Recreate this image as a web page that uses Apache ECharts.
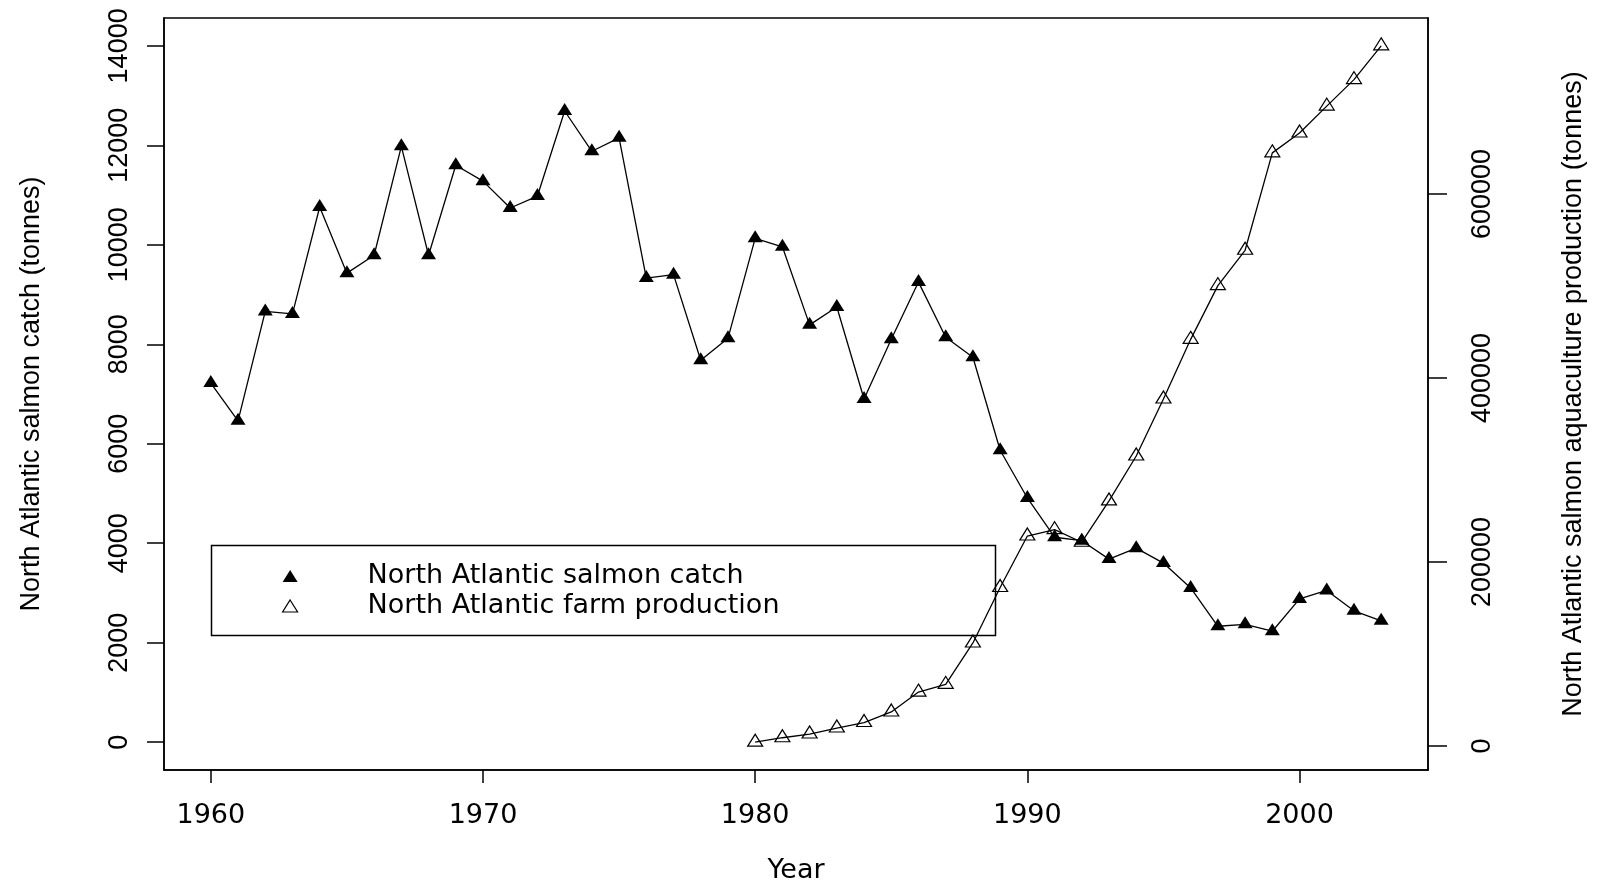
<!DOCTYPE html>
<html>
<head>
<meta charset="utf-8">
<title>North Atlantic salmon catch and farm production</title>
<script src="https://cdn.jsdelivr.net/npm/echarts@6/dist/echarts.min.js"></script>
<style>
  html, body { margin: 0; padding: 0; background: #fff; }
  #chart { width: 1605px; height: 887px; }
</style>
</head>
<body>
<div id="chart"></div>
<script>
// Wild catch, 1960-2003 (tonnes)
const catchYears = [1960, 1961, 1962, 1963, 1964, 1965, 1966, 1967, 1968, 1969,
                    1970, 1971, 1972, 1973, 1974, 1975, 1976, 1977, 1978, 1979,
                    1980, 1981, 1982, 1983, 1984, 1985, 1986, 1987, 1988, 1989,
                    1990, 1991, 1992, 1993, 1994, 1995, 1996, 1997, 1998, 1999,
                    2000, 2001, 2002, 2003];
const catchTonnes = [7220, 6460, 8660, 8610, 10760, 9430, 9790, 11980, 9790, 11600,
                     11280, 10740, 10980, 12690, 11880, 12150, 9330, 9400, 7680, 8120,
                     10130, 9960, 8390, 8750, 6900, 8100, 9250, 8140, 7740, 5870,
                     4910, 4120, 4050, 3680, 3900, 3600, 3100, 2330, 2370, 2230,
                     2880, 3050, 2640, 2440];

// Farmed production, 1980-2003 (tonnes)
const farmYears = [1980, 1981, 1982, 1983, 1984, 1985, 1986, 1987, 1988, 1989,
                   1990, 1991, 1992, 1993, 1994, 1995, 1996, 1997, 1998, 1999,
                   2000, 2001, 2002, 2003];
const farmTonnes = [4200, 9000, 13000, 19500, 25500, 37000, 58600, 67000, 112000, 172300,
                    228200, 235200, 221500, 266400, 315200, 377200, 442000, 500400, 538800, 644700,
                    666300, 695500, 724300, 761000];

// Axis ticks
const yearTicks = [1960, 1970, 1980, 1990, 2000];
const catchTicks = [0, 2000, 4000, 6000, 8000, 10000, 12000, 14000];
const farmTicks = [0, 200000, 400000, 600000];

const seriesNames = ['North Atlantic salmon catch', 'North Atlantic farm production'];
const axisTitles = {
  x: 'Year',
  left: 'North Atlantic salmon catch (tonnes)',
  right: 'North Atlantic salmon aquaculture production (tonnes)'
};

// Data ranges padded by 4% on each side, like a classic statistics plot
function padRange(lo, hi) {
  const d = (hi - lo) * 0.04;
  return [lo - d, hi + d];
}
const xRange = padRange(Math.min(...catchYears), Math.max(...catchYears));
const leftRange = padRange(0, 14000);
const rightRange = padRange(Math.min(...farmTonnes), Math.max(...farmTonnes));

const hFont = 'DejaVu Sans, Liberation Sans, sans-serif';
const vFont = 'Liberation Sans, Arial, sans-serif';
const ink = '#000';
const plain = v => String(v);
const edge = { show: true, onZero: false, lineStyle: { color: ink, width: 1.5 } };

const chart = echarts.init(document.getElementById('chart'), null, { renderer: 'canvas' });

chart.setOption({
  backgroundColor: '#fff',
  animation: false,
  grid: {
    left: 164, right: 177, top: 18, bottom: 117,
    outerBoundsMode: 'none',
    containLabel: false,
    show: true, borderColor: ink, borderWidth: 1.5, backgroundColor: 'transparent'
  },
  xAxis: {
    type: 'value',
    position: 'bottom',
    min: xRange[0], max: xRange[1],
    axisLine: edge,
    splitLine: { show: false },
    axisTick: { show: true, inside: false, length: 13, customValues: yearTicks,
                lineStyle: { color: ink, width: 1.5 } },
    axisLabel: { customValues: yearTicks, formatter: plain, margin: 46,
                 verticalAlign: 'middle', color: ink, fontFamily: hFont, fontSize: 27 },
    name: axisTitles.x,
    nameLocation: 'middle',
    nameGap: 101,
    nameTextStyle: { color: ink, fontFamily: hFont, fontSize: 27, verticalAlign: 'middle' }
  },
  yAxis: [
    {
      type: 'value',
      position: 'left',
      min: leftRange[0], max: leftRange[1],
      axisLine: edge,
      splitLine: { show: false },
      axisTick: { show: true, inside: false, length: 17, customValues: catchTicks,
                  lineStyle: { color: ink, width: 1.5 } },
      axisLabel: { customValues: catchTicks, formatter: plain, rotate: 90, margin: 44,
                   align: 'center', verticalAlign: 'middle',
                   color: ink, fontFamily: vFont, fontSize: 27 },
      name: axisTitles.left,
      nameLocation: 'middle',
      nameRotate: 90,
      nameGap: 132,
      nameTextStyle: { color: ink, fontFamily: vFont, fontSize: 27, verticalAlign: 'middle' }
    },
    {
      type: 'value',
      position: 'right',
      min: rightRange[0], max: rightRange[1],
      axisLine: edge,
      splitLine: { show: false },
      axisTick: { show: true, inside: false, length: 19, customValues: farmTicks,
                  lineStyle: { color: ink, width: 1.5 } },
      axisLabel: { customValues: farmTicks, formatter: plain, rotate: 90, margin: 55,
                   align: 'center', verticalAlign: 'middle',
                   color: ink, fontFamily: vFont, fontSize: 27 },
      name: axisTitles.right,
      nameLocation: 'middle',
      nameRotate: 90,
      nameGap: 146,
      nameTextStyle: { color: ink, fontFamily: vFont, fontSize: 27, verticalAlign: 'middle' }
    }
  ],
  legend: {
    orient: 'vertical',
    left: 282,
    top: 561,
    padding: 0,
    itemGap: 0,
    itemWidth: 15,
    itemHeight: 12,
    selectedMode: false,
    textStyle: { color: ink, fontFamily: hFont, fontSize: 27, lineHeight: 30,
                 padding: [0, 0, 0, 65] },
    data: [
      { name: seriesNames[0], icon: 'triangle',
        itemStyle: { color: ink, borderWidth: 0 } },
      { name: seriesNames[1], icon: 'triangle',
        itemStyle: { color: '#fff', borderColor: ink, borderWidth: 1.2 } }
    ]
  },
  graphic: [
    {
      type: 'rect',
      left: 209, top: 543,
      shape: { width: 784, height: 90 },
      style: { fill: 'none', stroke: ink, lineWidth: 1.5 },
      silent: true,
      z: 10
    }
  ],
  series: [
    {
      name: seriesNames[0],
      type: 'line',
      xAxisIndex: 0,
      yAxisIndex: 0,
      data: catchYears.map((y, i) => [y, catchTonnes[i]]),
      symbol: 'triangle',
      symbolSize: [15, 12],
      symbolOffset: [0, -2],
      showAllSymbol: true,
      lineStyle: { color: ink, width: 1.3 },
      itemStyle: { color: ink, borderWidth: 0 },
      emphasis: { disabled: true },
      silent: true
    },
    {
      name: seriesNames[1],
      type: 'line',
      xAxisIndex: 0,
      yAxisIndex: 1,
      data: farmYears.map((y, i) => [y, farmTonnes[i]]),
      symbol: 'triangle',
      symbolSize: [15, 12],
      symbolOffset: [0, -2],
      showAllSymbol: true,
      lineStyle: { color: ink, width: 1.3 },
      itemStyle: { color: 'rgba(255,255,255,0)', borderColor: ink, borderWidth: 1.2 },
      emphasis: { disabled: true },
      silent: true
    }
  ]
});
</script>
</body>
</html>
